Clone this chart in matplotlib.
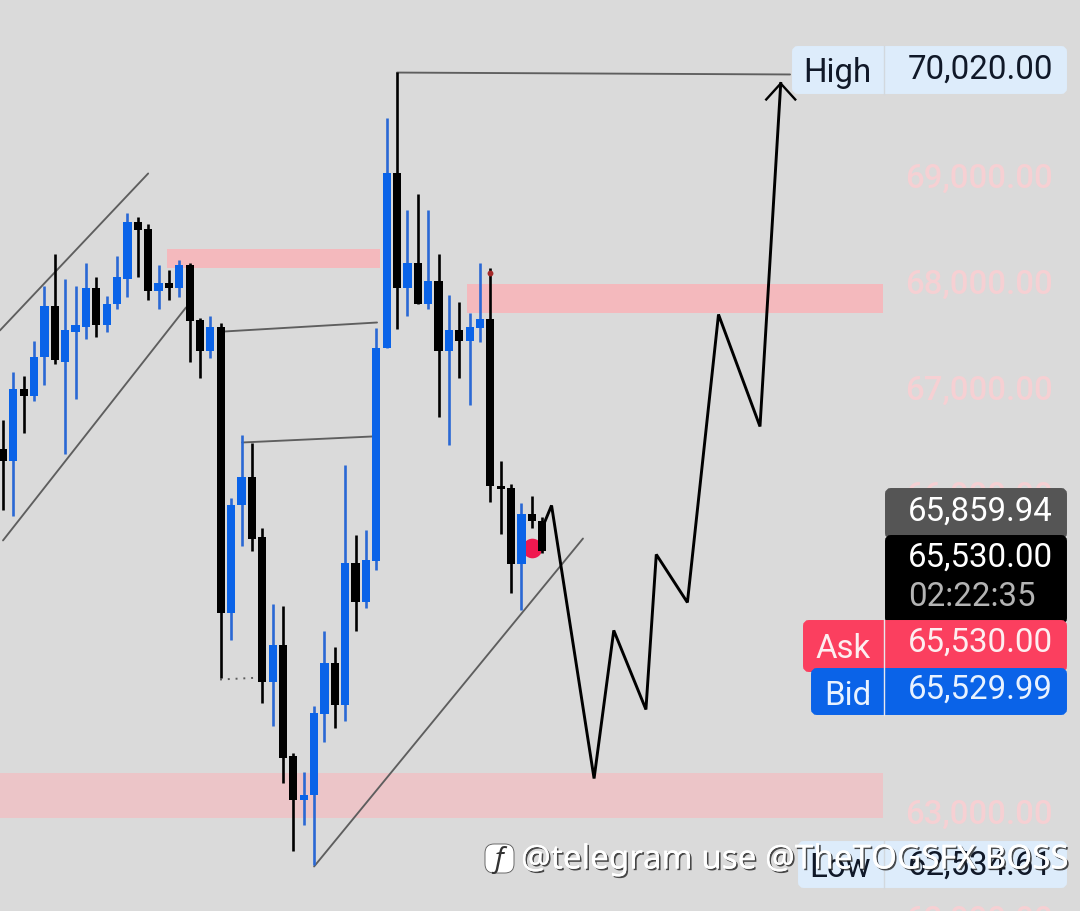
import matplotlib
matplotlib.use("Agg")
import matplotlib.pyplot as plt
from matplotlib.patches import FancyBboxPatch, Rectangle
import matplotlib.patheffects as pe

plt.rcParams['font.family'] = ['Roboto', 'DejaVu Sans']

# candle data (price units), one entry per bar
highs = [66728,67181,67152,67473,67992,68294,68067,68001,68209,68086,67898,68284,68681,68643,68586,68199,68152,68237,68218,67699,67718,67652,65992,66586,66511,65709,64992,64982,63586,63407,64030,64737,64586,66303,65643,65690,67596,69577,70020,68718,68869,68718,68294,67907,67841,67737,68218,68162,66350,66124,65945,66011,65813]
body_top = [66454,67020,67020,67331,67803,67803,67577,67624,67982,67982,67831,68077,68596,68596,68530,68020,68020,68199,68199,67671,67614,67614,65935,66199,66199,65624,64614,64614,63558,63199,63964,64435,64435,65379,65379,65407,67416,69058,69067,68209,68218,68039,68039,67577,67577,67605,67681,67681,66114,66086,65850,65850,65784]
body_bot = [66350,66350,66954,66954,67322,67294,67284,67567,67614,67633,67633,67822,68067,68520,67945,67945,67982,67982,67662,67379,67379,64907,64907,65926,65614,64256,64256,63548,63143,63143,63190,63954,64048,64048,65011,65011,65398,67407,67982,67982,67831,67831,67379,67379,67482,67482,67596,66114,66077,65369,65369,65775,65501]
lows = [65879,65822,66605,66907,67067,67256,66416,66935,67501,67511,67567,67784,67888,68077,67860,67775,67860,67888,67284,67124,67313,64294,64652,65548,65492,64067,63841,63303,62662,62907,62534,63690,63831,63897,64737,64954,65313,67407,67586,67718,67822,67784,66756,66492,67133,66869,67464,65954,65652,65096,64935,65709,65473]
is_up = [0,1,0,1,1,0,1,1,1,0,1,1,1,0,0,1,0,1,0,0,1,0,1,1,0,0,1,0,0,1,1,1,0,1,0,1,1,1,0,1,0,1,0,1,0,1,1,0,0,0,1,0,0]

# drawn projection path (bar index, price)
path_x = [51.9,52.9,57,58.9,62,63,66,69,73,75]
path_y = [65690,65926,63350,64747,64001,65464,65011,67728,66671,69907]
arrow_x = [73.6,75,76.4]
arrow_y = [69756,69907,69756]

# grey trend lines: (x0, y0, x1, y1)
grey_lines = [
    (-0.3,67577,14.0,69058),
    (0,65596,17.65,67794),
    (38,70010,75.9,69992),
    (21.3,67567,36.07,67652),
    (23.05,66520,35.68,66577),
    (30,62520,55.93,65614),
]
dotted_line = (20.93,64284,24.98,64303)

# supply / demand zones: (x0, x1, top, bottom, colour)
zones = [
    (15.8,36.35,68341,68162,'#f4b9bd'),
    (44.75,84.86,68011,67746,'#f4b9bd'),
    (-0.3,84.86,63398,62982,'#ecc5c8'),
]

tick_vals = [69000,68000,67000,66000,63000,62000]
tick_labels = ['69,000.00','68,000.00','67,000.00','66,000.00','63,000.00','62,000.00']

BLUE = '#0a63e8'
WICK_BLUE = '#2a68d4'
BG = '#dadada'

fig = plt.figure(figsize=(10.8,9.12), dpi=100, facecolor=BG)
ax = fig.add_axes([0,0,1,1], facecolor=BG)
ax.set_xlim(-0.289,103.86)
ax.set_ylim(62100,70704)
ax.axis('off')

for x0,x1,t,b,c in zones:
    ax.add_patch(Rectangle((x0,b),x1-x0,t-b,facecolor=c,edgecolor='none',zorder=1))

for i,(x0,y0,x1,y1) in enumerate(grey_lines):
    ax.plot([x0,x1],[y0,y1],color='#5e5e5e',lw=1.35,zorder=2,solid_capstyle='round')
ax.plot([dotted_line[0],dotted_line[2]],[dotted_line[1],dotted_line[3]],color='#5c5c5c',lw=1.4,ls=(0,(1,3)),zorder=2)

ax.scatter([51],[65520],s=200,color='#f0184f',zorder=3,linewidths=0)

for i in range(len(highs)):
    col = BLUE if is_up[i] else 'black'
    wcol = WICK_BLUE if is_up[i] else 'black'
    ax.plot([i,i],[lows[i],highs[i]],color=wcol,lw=1.9,zorder=4,solid_capstyle='butt')
    ax.bar(i,body_top[i]-body_bot[i],bottom=body_bot[i],width=0.79,color=col,linewidth=0,zorder=5)

ax.scatter([47],[68115],s=18,color='#a42a2a',zorder=6,linewidths=0)

ax.plot(path_x,path_y,color='black',lw=2.1,zorder=7,solid_joinstyle='miter')
ax.plot(arrow_x,arrow_y,color='black',lw=1.7,zorder=7,solid_joinstyle='miter')

# overlay in pixel coordinates for the price panel
ov = fig.add_axes([0,0,1,1],facecolor='none')
ov.set_xlim(0,1080); ov.set_ylim(912,0); ov.axis('off')

FS = 23.8
def tag(x0,y0,x1,y1,c,z=10):
    ov.add_patch(FancyBboxPatch((x0+3,y0+3),x1-x0-6,y1-y0-6,boxstyle='round,pad=0,rounding_size=3',
                 mutation_aspect=1,facecolor=c,edgecolor=c,linewidth=4.3,zorder=z))
def txt(x,y,s,c,ha='right',fs=FS,z=12):
    ov.text(x,y-1.5,s,color=c,ha=ha,va='center_baseline',fontsize=fs,zorder=z)

# price scale labels (3 px above their level)
for v,l in zip(tick_vals,tick_labels):
    py = (70690-v)/9.434-4
    ov.text(1053,py,l,color='#f6d0d3',ha='right',va='center_baseline',fontsize=FS,fontweight='medium',zorder=8)

LIGHT = '#ddecfb'
tag(792,47,1067,95,LIGHT)
ov.plot([884,884],[47,95],color='#d2d8de',lw=1,zorder=11)
txt(837,71,'High','#101828',ha='center')
txt(1053,68,'70,020.00','#101828')

tag(885,489,1067,540,'#555555',z=9)
txt(1053,510,'65,859.94','white')
tag(885,536,1067,625,'black',z=10)
txt(1053,556,'65,530.00','white')
txt(908,595,'02:22:35','#b4b4b4',ha='left')
tag(803,621,1067,673,'#fb3f5f',z=11)
txt(843,647,'Ask','#fdeef0',ha='center')
txt(1053,641,'65,530.00','#fdeef0')
tag(811,669,1067,716,BLUE,z=12)
txt(848,694,'Bid','#e8f2ff',ha='center',z=13)
txt(1053,688,'65,529.99','#e8f2ff',z=13)
ov.plot([884,884],[621,716],color='#e8e8ee',lw=1,zorder=14)

tag(798,842,1067,889,LIGHT)
ov.plot([884,884],[842,889],color='#d2d8de',lw=1,zorder=11)
txt(840,866,'Low','#101828',ha='center')
txt(1053,864,'62,534.61','#101828')

# watermark
wm = '@telegram use @TheTOGSFX BOSS'
ov.text(521,857,wm,color='white',ha='left',va='center_baseline',fontsize=23.9,family='Noto Sans',
        fontweight='light',zorder=20,
        path_effects=[pe.withSimplePatchShadow(offset=(1.2,-1.2),shadow_rgbFace='#222222',alpha=0.8),pe.Normal()])
ov.add_patch(FancyBboxPatch((485,845),29,29,boxstyle='round,pad=0,rounding_size=9',facecolor='white',edgecolor='#555555',linewidth=0.6,zorder=20))
ov.text(499,860,'f',color='#333333',ha='center',va='center',fontsize=20,style='italic',family='Noto Sans',zorder=21)

fig.savefig('out.png',dpi=100,facecolor=BG)
